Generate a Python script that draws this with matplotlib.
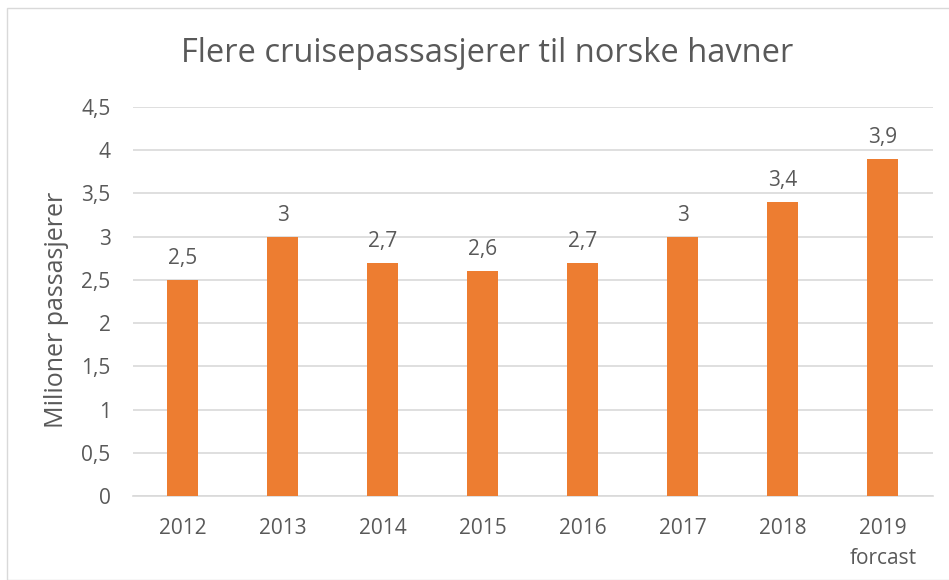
import matplotlib.pyplot as plt
from matplotlib.patches import Rectangle

years = ["2012", "2013", "2014", "2015", "2016", "2017", "2018", "2019\nforcast"]
passengers = [2.5, 3.0, 2.7, 2.6, 2.7, 3.0, 3.4, 3.9]
labels = ["2,5", "3", "2,7", "2,6", "2,7", "3", "3,4", "3,9"]
yticks = [0, 0.5, 1, 1.5, 2, 2.5, 3, 3.5, 4, 4.5]
ytick_labels = ["0", "0,5", "1", "1,5", "2", "2,5", "3", "3,5", "4", "4,5"]

plt.rcParams['font.family'] = ['Open Sans', 'DejaVu Sans']
text_col = '#595959'

fig = plt.figure(figsize=(9.49, 5.8), dpi=100)
ax = fig.add_axes([0.1401, 0.1448, 0.8430, 0.6707])

# light frame around the chart area
fig.patches.append(Rectangle((7 / 949, 0), 1, 1 - 8 / 580, transform=fig.transFigure,
                             fill=False, edgecolor='#D9D9D9', linewidth=1))

x = range(len(years))
ax.bar(x, passengers, width=0.31, color='#ED7D31', zorder=3)
for xi, v, lab in zip(x, passengers, labels):
    ax.annotate(lab, (xi, v), xytext=(0, 8), textcoords='offset points',
                ha='center', va='bottom', fontsize=15, color=text_col)

ax.set_xlim(-0.5, len(years) - 0.5)
ax.set_ylim(0, 4.5)
ax.set_yticks(yticks)
ax.set_yticklabels(ytick_labels)
ax.set_xticks(list(x))
ax.set_xticklabels(years, linespacing=1.55)
ax.tick_params(axis='both', length=0, labelsize=15, labelcolor=text_col)
ax.tick_params(axis='x', pad=16)
ax.tick_params(axis='y', pad=16)

ax.grid(axis='y', color='#D9D9D9', linewidth=1.2, zorder=0)
for s in ['top', 'right', 'left']:
    ax.spines[s].set_visible(False)
ax.spines['bottom'].set_color('#D9D9D9')
ax.spines['bottom'].set_linewidth(1.2)

fig.text(0.060, 0.466, "Milioner passasjerer", rotation=90, ha='center', va='center',
         fontsize=18, color=text_col)
fig.text(0.513, 1 - 62 / 580, "Flere cruisepassasjerer til norske havner", ha='center',
         va='baseline', fontsize=23.5, color=text_col)

fig.savefig("out.png", dpi=100)
